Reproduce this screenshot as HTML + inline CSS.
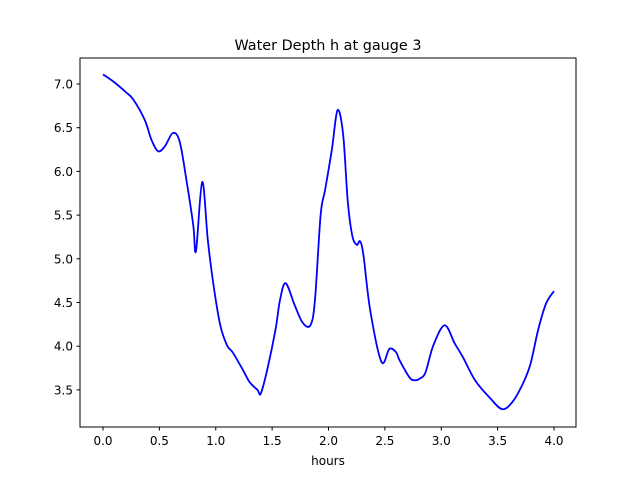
<!DOCTYPE html>
<html><head><meta charset="utf-8"><style>
body{margin:0;background:#fff;font-family:"Liberation Sans","DejaVu Sans",sans-serif}
svg text{font-family:"DejaVu Sans","Liberation Sans",sans-serif;font-size:12px;fill:#000}
</style></head><body>
<svg id="chart" width="640" height="480" xmlns="http://www.w3.org/2000/svg">
<rect width="640" height="480" fill="#fff"/>
<text x="328" y="50" text-anchor="middle" style="font-size:14.4px">Water Depth h at gauge 3</text>
<g id="ticks"></g>
<path id="line" fill="none" stroke="#0000ff" stroke-width="1.8"/>
<rect x="80" y="58" width="496" height="369" fill="none" stroke="#000" stroke-width="1"/>
<text x="328" y="465" text-anchor="middle">hours</text>
</svg>
<script>
const hours=[0,0.09,0.2,0.27,0.37,0.43,0.49,0.55,0.62,0.68,0.74,0.8,0.825,0.88,0.93,0.98,1.04,1.1,1.15,1.24,1.3,1.37,1.40,1.46,1.53,1.57,1.62,1.7,1.77,1.84,1.88,1.93,1.97,2.03,2.08,2.13,2.17,2.21,2.25,2.28,2.31,2.37,2.47,2.54,2.6,2.63,2.72,2.77,2.81,2.86,2.93,3.03,3.12,3.19,3.3,3.43,3.54,3.63,3.72,3.79,3.86,3.93,4.0];
const depth=[7.11,7.03,6.91,6.82,6.59,6.36,6.23,6.29,6.44,6.34,5.9,5.39,5.09,5.88,5.21,4.70,4.24,4.01,3.93,3.73,3.59,3.5,3.46,3.75,4.19,4.53,4.72,4.47,4.27,4.24,4.53,5.5,5.79,6.25,6.70,6.42,5.67,5.27,5.16,5.2,5.04,4.41,3.82,3.97,3.93,3.84,3.64,3.61,3.63,3.70,4.01,4.24,4.03,3.88,3.61,3.41,3.28,3.36,3.56,3.79,4.19,4.49,4.63];
const xTicks=[0,0.5,1,1.5,2,2.5,3,3.5,4];
const xTickLabels=["0.0","0.5","1.0","1.5","2.0","2.5","3.0","3.5","4.0"];
const yTicks=[3.5,4,4.5,5,5.5,6,6.5,7];
const yTickLabels=["3.5","4.0","4.5","5.0","5.5","6.0","6.5","7.0"];
const sx=v=>103+v*112.75;
const sy=v=>84+(7-v)*87.4;
const NS="http://www.w3.org/2000/svg";
const g=document.getElementById('ticks');
function mk(t,a){const e=document.createElementNS(NS,t);for(const k in a)e.setAttribute(k,a[k]);return e;}
xTicks.forEach((v,i)=>{
 const l=mk('line',{x1:sx(v),x2:sx(v),y1:427,y2:430.5,stroke:'#000'});
 
 
 g.appendChild(l);
 const t=mk('text',{x:sx(v),y:445,'text-anchor':'middle'});t.textContent=xTickLabels[i];
 
 
 g.appendChild(t);
});
yTicks.forEach((v,i)=>{
 const l=mk('line',{x1:76.5,x2:80,y1:sy(v),y2:sy(v),stroke:'#000'});
 
 
 g.appendChild(l);
 const t=mk('text',{x:73,y:sy(v)+4.5,'text-anchor':'end'});t.textContent=yTickLabels[i];
 
 
 g.appendChild(t);
});
const P=hours.map((h,i)=>[sx(h),sy(depth[i])]);
let d='M'+P[0][0]+','+P[0][1];
for(let i=0;i<P.length-1;i++){
 const p0=P[Math.max(0,i-1)],p1=P[i],p2=P[i+1],p3=P[Math.min(P.length-1,i+2)];
 const c1=[p1[0]+(p2[0]-p0[0])/6,p1[1]+(p2[1]-p0[1])/6];
 const c2=[p2[0]-(p3[0]-p1[0])/6,p2[1]-(p3[1]-p1[1])/6];
 d+=`C${c1[0]},${c1[1]} ${c2[0]},${c2[1]} ${p2[0]},${p2[1]}`;
}
document.getElementById('line').setAttribute('d',d);
</script>
</body></html>
